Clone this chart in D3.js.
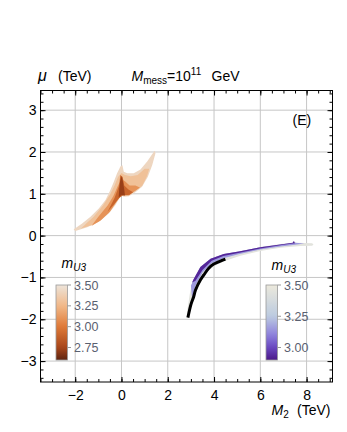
<!DOCTYPE html>
<html><head><meta charset="utf-8">
<script src="https://cdn.jsdelivr.net/npm/d3@7"></script>
<style>body{margin:0;background:#fff} text{font-family:"Liberation Sans",Arial,sans-serif}</style>
</head><body><svg id="chart" width="347" height="432"></svg>
<script>
// axis ticks
const xTicks = [-2, 0, 2, 4, 6, 8];
const yTicks = [-3, -2, -1, 0, 1, 2, 3];
const leftLegendTicks = [2.75, 3.00, 3.25, 3.50];
const rightLegendTicks = [3.00, 3.25, 3.50];

// left (orange) region, drawn as nested bands of m_U3
const leftLevels = [3.42, 3.3, 3.1, 2.9, 2.72];
const leftRegions = [
  [[-2.06,0.14],[-1.99,0.11],[-1.48,0.20],[-0.98,0.33],[-0.55,0.53],[-0.26,0.73],[-0.07,0.91],[0.0,0.96],[0.10,0.93],[0.32,0.94],[0.60,1.04],[0.89,1.17],[1.14,1.41],[1.33,1.69],[1.47,1.97],[1.43,2.03],[1.11,1.77],[0.82,1.58],[0.53,1.49],[0.25,1.49],[0.10,1.53],[0.04,1.68],[-0.04,1.66],[-0.19,1.49],[-0.33,1.29],[-0.48,1.09],[-0.69,0.85],[-0.98,0.65],[-1.34,0.45],[-1.70,0.29],[-2.06,0.15]],
  [[-1.75,0.17],[-1.3,0.25],[-0.9,0.38],[-0.5,0.58],[-0.2,0.82],[0.0,0.98],[0.3,0.97],[0.6,1.07],[0.9,1.2],[1.1,1.42],[1.2,1.6],[1.0,1.6],[0.7,1.45],[0.4,1.42],[0.15,1.45],[0.0,1.5],[-0.15,1.4],[-0.3,1.2],[-0.5,0.98],[-0.8,0.72],[-1.2,0.45],[-1.5,0.3]],
  [[-1.3,0.23],[-0.9,0.36],[-0.5,0.57],[-0.2,0.82],[0.0,0.97],[0.3,0.96],[0.6,1.07],[0.8,1.15],[0.6,1.2],[0.35,1.2],[0.15,1.3],[0.0,1.35],[-0.15,1.2],[-0.35,0.95],[-0.6,0.72],[-1.0,0.45]],
  [[-0.6,0.57],[-0.3,0.76],[-0.1,0.9],[0.05,0.96],[0.35,0.98],[0.5,1.04],[0.3,1.1],[0.12,1.2],[0.05,1.4],[-0.05,1.45],[-0.1,1.2],[-0.3,0.9]],
  [[-0.12,0.92],[0.0,0.97],[0.15,0.96],[0.12,1.1],[0.06,1.3],[0.0,1.42],[-0.06,1.3],[-0.1,1.1]]
];

// right (purple) band
const rightLevels = [3.45, 3.15, 2.93];
const rightRegions = [
  [[2.84,-1.80],[2.95,-1.40],[3.05,-1.14],[3.12,-1.05],[3.41,-0.75],[3.85,-0.55],[4.42,-0.44],[5.07,-0.38],[5.57,-0.33],[6.0,-0.27],[6.87,-0.20],[7.4,-0.17],[7.45,-0.13],[7.55,-0.17],[8.24,-0.18],[8.3,-0.21],[8.24,-0.24],[7.74,-0.25],[6.87,-0.29],[6.0,-0.37],[5.14,-0.48],[4.49,-0.60],[4.14,-0.69],[3.77,-0.82],[3.41,-1.10],[3.12,-1.50],[2.95,-1.85],[2.86,-1.95]],
  [[3.0,-1.2],[3.12,-1.05],[3.41,-0.75],[3.85,-0.55],[4.42,-0.44],[5.07,-0.38],[6.0,-0.28],[6.87,-0.21],[7.5,-0.17],[7.9,-0.19],[7.5,-0.22],[6.87,-0.26],[6.0,-0.33],[5.1,-0.44],[4.4,-0.54],[3.9,-0.66],[3.5,-0.88],[3.2,-1.2],[3.05,-1.5]],
  [[3.05,-1.12],[3.12,-1.04],[3.41,-0.75],[3.85,-0.55],[4.42,-0.44],[5.07,-0.38],[6.0,-0.28],[6.87,-0.21],[7.4,-0.17],[7.45,-0.13],[7.5,-0.18],[7.0,-0.22],[6.0,-0.31],[5.1,-0.41],[4.4,-0.49],[3.9,-0.60],[3.5,-0.82],[3.2,-1.08]]
];

// black reference curve
const blackCurve = [[2.87,-1.96],[3.0,-1.65],[3.12,-1.46],[3.2,-1.30],[3.41,-1.06],[3.56,-0.94],[3.77,-0.78],[3.99,-0.68],[4.14,-0.64],[4.49,-0.56]];

const svg = d3.select("#chart");
const L = 40.5, R = 332.5, T = 90.5, B = 382;

const x = d3.scaleLinear().domain([-3.5, 9.12]).range([L, R]);
const y = d3.scaleLinear().domain([-3.5, 3.47]).range([B, T]);

const leftColor = d3.scaleLinear().domain([2.6, 2.75, 3.0, 3.25, 3.5])
  .range(["#5e2410", "#a8461a", "#df7a38", "#f1b888", "#ede4da"]);
const rightColor = d3.scaleLinear().domain([2.9, 3.0, 3.1, 3.25, 3.5])
  .range(["#4a1888", "#6a48c0", "#8d80dc", "#bccbe0", "#ece9dc"]);

// grid
svg.append("g").selectAll("line").data(xTicks).join("line")
  .attr("x1", d => x(d)).attr("x2", d => x(d)).attr("y1", T).attr("y2", B)
  .attr("stroke", "#c6c6c6");
svg.append("g").selectAll("line").data(yTicks).join("line")
  .attr("x1", L).attr("x2", R).attr("y1", d => y(d)).attr("y2", d => y(d))
  .attr("stroke", "#c6c6c6");

const poly = d3.line().x(d => x(d[0])).y(d => y(d[1]));

svg.append("g").selectAll("path").data(leftRegions).join("path")
  .attr("d", d => poly(d) + "Z")
  .attr("fill", (d, i) => leftColor(leftLevels[i]));

svg.append("g").selectAll("path").data(rightRegions).join("path")
  .attr("d", d => poly(d) + "Z")
  .attr("fill", (d, i) => rightColor(rightLevels[i]));

svg.append("path")
  .attr("d", d3.line().curve(d3.curveCatmullRom).x(d => x(d[0])).y(d => y(d[1]))(blackCurve))
  .attr("fill", "none").attr("stroke", "#000").attr("stroke-width", 3);

// frame and ticks
const xMinor = d3.range(-3.5, 9.01, 0.5);
const yMinor = d3.range(-3.4, 3.41, 0.2);
const fmt = d3.format("d");

function axisStyle(g) {
  g.select(".domain").remove();
  g.selectAll("line").attr("stroke", "#000");
  g.selectAll("text").attr("font-size", 14).attr("fill", "#000");
}

svg.append("g").attr("transform", `translate(0,${B})`)
  .call(d3.axisBottom(x).tickValues(xTicks).tickSize(-5).tickPadding(8).tickFormat(fmt)).call(axisStyle);
svg.append("g").attr("transform", `translate(0,${B})`)
  .call(d3.axisBottom(x).tickValues(xMinor).tickSize(-3).tickFormat("")).call(axisStyle);
svg.append("g").attr("transform", `translate(0,${T})`)
  .call(d3.axisTop(x).tickValues(xTicks).tickSize(-5).tickFormat("")).call(axisStyle);
svg.append("g").attr("transform", `translate(0,${T})`)
  .call(d3.axisTop(x).tickValues(xMinor).tickSize(-3).tickFormat("")).call(axisStyle);
svg.append("g").attr("transform", `translate(${L},0)`)
  .call(d3.axisLeft(y).tickValues(yTicks).tickSize(-5).tickPadding(4).tickFormat(fmt)).call(axisStyle);
svg.append("g").attr("transform", `translate(${L},0)`)
  .call(d3.axisLeft(y).tickValues(yMinor).tickSize(-3).tickFormat("")).call(axisStyle);
svg.append("g").attr("transform", `translate(${R},0)`)
  .call(d3.axisRight(y).tickValues(yTicks).tickSize(-5).tickFormat("")).call(axisStyle);
svg.append("g").attr("transform", `translate(${R},0)`)
  .call(d3.axisRight(y).tickValues(yMinor).tickSize(-3).tickFormat("")).call(axisStyle);

svg.append("rect").attr("x", L).attr("y", T).attr("width", R - L).attr("height", B - T)
  .attr("fill", "none").attr("stroke", "#000");

// legends
function legend(id, x0, domain, color, ticks, titleY) {
  const ly = d3.scaleLinear().domain(domain).range([360, 285]);
  const grad = svg.append("defs").append("linearGradient").attr("id", id)
    .attr("x1", 0).attr("y1", 1).attr("x2", 0).attr("y2", 0);
  d3.range(0, 1.001, 0.05).forEach(t => {
    grad.append("stop").attr("offset", t)
      .attr("stop-color", color(domain[0] + t * (domain[1] - domain[0])));
  });
  const g = svg.append("g");
  g.append("rect").attr("x", x0).attr("y", 285).attr("width", 11.5).attr("height", 75)
    .attr("fill", `url(#${id})`).attr("stroke", "#999").attr("stroke-width", 0.8);
  g.selectAll("line").data(ticks).join("line")
    .attr("x1", x0 + 11.5).attr("x2", x0 + 15).attr("y1", d => ly(d)).attr("y2", d => ly(d))
    .attr("stroke", "#999");
  g.selectAll("text.tl").data(ticks).join("text").attr("class", "tl")
    .attr("x", x0 + 18).attr("y", d => ly(d)).attr("dy", "0.36em")
    .attr("font-size", 12.5).attr("fill", "#5a6070")
    .text(d => d3.format(".2f")(d));
  const t = g.append("text").attr("x", x0 + 5.5).attr("y", titleY).attr("font-size", 14);
  t.append("tspan").attr("font-style", "italic").text("m");
  t.append("tspan").attr("font-size", 10).attr("font-style", "italic").attr("dy", 3).text("U3");
}
legend("gl", 56, [2.6, 3.5], leftColor, leftLegendTicks, 268);
legend("gr", 266, [2.9, 3.5], rightColor, rightLegendTicks, 270);

// labels
const t1 = svg.append("text").attr("x", 38).attr("y", 81).attr("font-size", 14);
t1.append("tspan").attr("font-style", "italic").attr("font-size", 16).text("μ");
t1.append("tspan").attr("x", 58).text("(TeV)");

const t2 = svg.append("text").attr("x", 131.5).attr("y", 81).attr("font-size", 14);
t2.append("tspan").attr("font-style", "italic").text("M");
t2.append("tspan").attr("font-size", 10).attr("dy", 3).text("mess");
t2.append("tspan").attr("dy", -3).text("=10");
t2.append("tspan").attr("font-size", 10).attr("dy", -6).text("11");
t2.append("tspan").attr("dy", 6).attr("x", 211.5).text("GeV");

svg.append("text").attr("x", 292.5).attr("y", 125).attr("font-size", 14).text("(E)");

const t3 = svg.append("text").attr("x", 271.5).attr("y", 415).attr("font-size", 14);
t3.append("tspan").attr("font-style", "italic").text("M");
t3.append("tspan").attr("font-size", 10).attr("dy", 3).text("2");
t3.append("tspan").attr("dy", -3).attr("x", 297).text("(TeV)");
</script></body></html>
